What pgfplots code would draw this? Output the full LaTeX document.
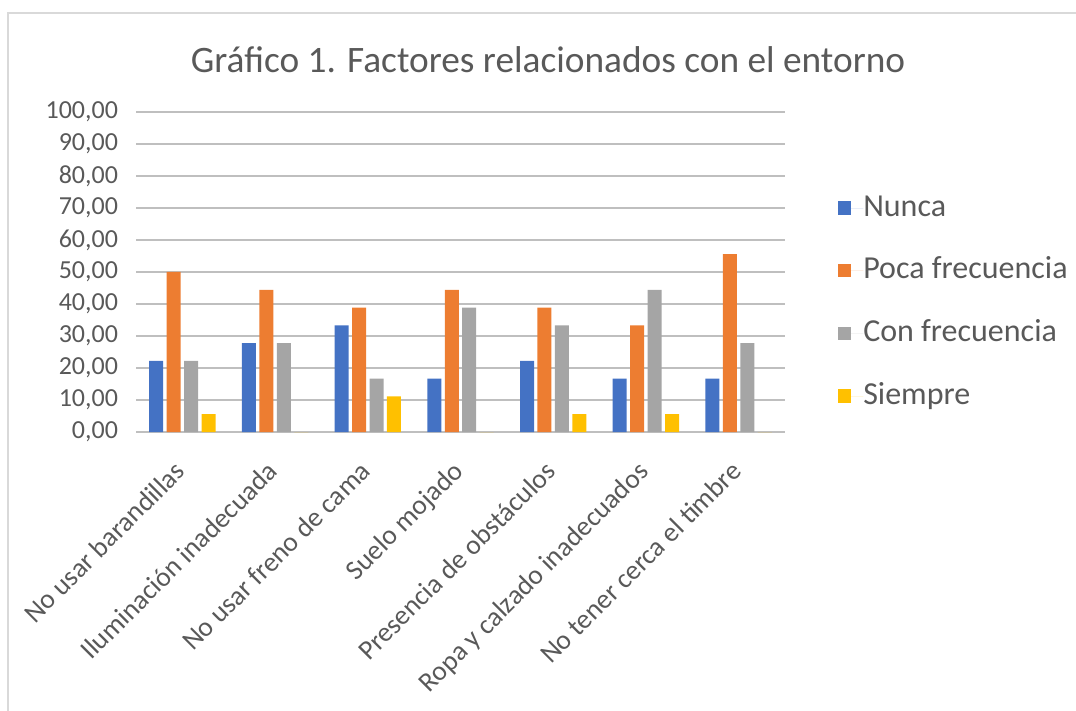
\documentclass[border=0pt]{standalone}
\usepackage{pgfplots}
\pgfplotsset{compat=1.18}
\usepackage{fontspec}
\setmainfont{Carlito}
\definecolor{cblue}{HTML}{4472C4}
\definecolor{corange}{HTML}{ED7D31}
\definecolor{cgray}{HTML}{A5A5A5}
\definecolor{cyellow}{HTML}{FFC000}
\definecolor{grid}{HTML}{D9D9D9}
\definecolor{txt}{HTML}{595959}
\begin{document}
\begin{tikzpicture}
\begin{scope}[x=0.75pt,y=0.75pt]
\path[use as bounding box] (0,0) rectangle (1076,711);
\draw[grid,line width=1.2pt] (8,0) -- (8,698) -- (1076,698);
\node[txt,font=\fontsize{28}{33}\selectfont] at (548,651) {Gráfico 1. Factores relacionados con el entorno};
\end{scope}
\begin{axis}[
  at={(102pt,209.25pt)}, anchor=south west,
  scale only axis, width=486.75pt, height=240pt,
  ybar=2.6pt, bar width=10.5pt,
  xmin=-0.5, xmax=6.5, ymin=0, ymax=100,
  xtick=data,
  xticklabels={No usar barandillas,Iluminación inadecuada,No usar freno de cama,Suelo mojado,Presencia de obstáculos,Ropa y calzado inadecuados,No tener cerca el timbre},
  ytick={0,10,...,100},
  axis line style={draw=none},
  tick style={draw=none},
  xmajorgrids=false,
  ymajorgrids=true, grid style={grid,line width=1pt},
  ticklabel style={txt,font=\fontsize{19.5}{23}\selectfont},
  /pgf/number format/.cd, fixed, fixed zerofill, precision=2, use comma, assume math mode=true,
  /pgfplots/.cd,
  yticklabel style={xshift=-10pt},
  xticklabel style={font=\fontsize{20.6}{24}\selectfont, xshift=-7pt, yshift=-11.5pt, rotate=45, anchor=north east},
  legend style={at={(1.075,0.406)}, anchor=west, draw=none, fill=none,
    font=\fontsize{24}{29}\selectfont, text=txt, legend cell align=left,
    nodes={text height=18pt, text depth=6pt, inner sep=0pt}, row sep=23pt},
  legend image code/.code={\path (0pt,0pt) -- (19pt,0pt);\fill[#1] (0pt,-5pt) rectangle (10pt,5pt);},
]
\addplot[fill=cblue,draw=none] coordinates {(0,22.22) (1,27.78) (2,33.33) (3,16.67) (4,22.22) (5,16.67) (6,16.67)};
\addplot[fill=corange,draw=none] coordinates {(0,50.00) (1,44.44) (2,38.89) (3,44.44) (4,38.89) (5,33.33) (6,55.56)};
\addplot[fill=cgray,draw=none] coordinates {(0,22.22) (1,27.78) (2,16.67) (3,38.89) (4,33.33) (5,44.44) (6,27.78)};
\addplot[fill=cyellow,draw=none] coordinates {(0,5.56) (1,0) (2,11.11) (3,0) (4,5.56) (5,5.56) (6,0)};
\legend{Nunca,Poca frecuencia,Con frecuencia,Siempre}
\end{axis}
\end{tikzpicture}
\end{document}
